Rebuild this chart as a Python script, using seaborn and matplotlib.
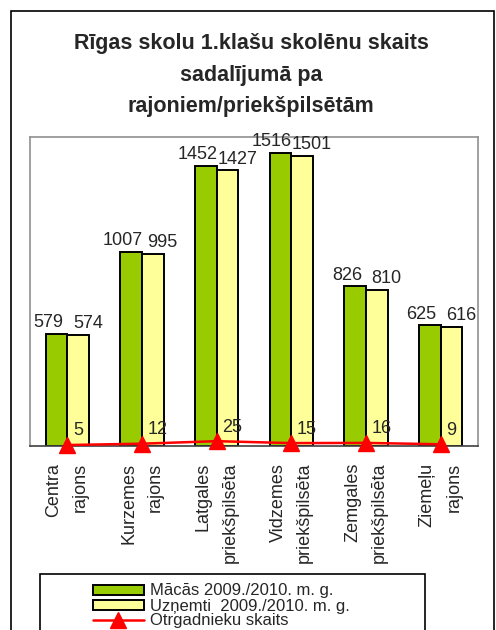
import numpy as np
import pandas as pd
import matplotlib
matplotlib.use("Agg")
import matplotlib.pyplot as plt
from matplotlib.patches import Patch, Rectangle
from matplotlib.lines import Line2D
import seaborn as sns

categories = ["Centra\nrajons", "Kurzemes\nrajons", "Latgales\npriekšpilsēta",
              "Vidzemes\npriekšpilsēta", "Zemgales\npriekšpilsēta", "Ziemeļu\nrajons"]
macas = [579, 1007, 1452, 1516, 826, 625]
uznemti = [574, 995, 1427, 1501, 810, 616]
otrgadnieki = [5, 12, 25, 15, 16, 9]
series = ["Mācās 2009./2010. m. g.", "Uzņemti  2009./2010. m. g."]
line_label = "Otrgadnieku skaits"

sns.set_style("white")
plt.rcParams['font.family'] = ['Liberation Sans', 'DejaVu Sans']

df = pd.DataFrame({
    "rajons": categories * 2,
    "skaits": macas + uznemti,
    "serija": [series[0]] * len(categories) + [series[1]] * len(categories),
})

fig = plt.figure(figsize=(4.96, 6.30), dpi=100)
ax = fig.add_axes([30 / 496, 1 - 446 / 630, 448 / 496, 309 / 630])

colors = ["#99CC00", "#FFFF99"]
sns.barplot(data=df, x="rajons", y="skaits", hue="serija", palette=colors,
            width=0.58, edgecolor="black", linewidth=1.4, saturation=1,
            ax=ax, legend=False)

x = np.arange(len(categories))
ax.plot(x, otrgadnieki, color="red", lw=1.8, marker="^", markersize=12,
        markeredgecolor="red", clip_on=False, zorder=5)

# value labels
for i, cont in enumerate(ax.containers):
    dx = -6 if i == 0 else 7
    for bar in cont:
        h = bar.get_height()
        ax.annotate(f"{int(h)}", (bar.get_x() + bar.get_width() / 2, h),
                    xytext=(dx, 2), textcoords="offset points",
                    ha="center", va="bottom", fontsize=13)
for xi, v in zip(x, otrgadnieki):
    ax.annotate(f"{v}", (xi, v), xytext=(4, 4), textcoords="offset points",
                ha="left", va="bottom", fontsize=13)

ax.set_ylim(0, 1600)
ax.set_xlim(-0.5, len(categories) - 0.5)
ax.set_yticks([])
ax.set_xlabel("")
ax.set_ylabel("")
ax.set_xticks(x)
ax.set_xticklabels(categories, rotation=90, fontsize=13, va="top", ha="center",
                   multialignment="right", linespacing=1.75)
ax.tick_params(axis="x", which="major", length=0, pad=12)
ax.set_xticks(np.arange(-0.5, len(categories), 1), minor=True)
ax.tick_params(axis="x", which="minor", length=5, width=1, color="#404040", direction="out")
for side in ["left", "right", "top"]:
    ax.spines[side].set_color("#909090")
    ax.spines[side].set_linewidth(1.2)
ax.spines["bottom"].set_color("#404040")
ax.spines["bottom"].set_linewidth(1.2)

fig.text(251 / 496, 1 - 75 / 630,
         "Rīgas skolu 1.klašu skolēnu skaits\nsadalījumā pa\nrajoniem/priekšpilsētām",
         ha="center", va="center", fontsize=15.5, fontweight="bold", linespacing=1.63)

# outer chart border
fig.patches.append(Rectangle((11 / 496, -0.1), 483 / 496, 1.1 - 11 / 630,
                             transform=fig.transFigure, fill=False,
                             edgecolor="black", lw=1.2))
# legend box
fig.patches.append(Rectangle((40 / 496, -0.1), 385 / 496, 0.1 + 1 - 574 / 630,
                             transform=fig.transFigure, fill=True, facecolor="white",
                             edgecolor="black", lw=1.2))
handles = [Patch(facecolor=colors[0], edgecolor="black", lw=1.4),
           Patch(facecolor=colors[1], edgecolor="black", lw=1.4),
           Line2D([], [], color="red", lw=1.8, marker="^", markersize=12)]
fig.legend(handles, series + [line_label], loc="upper left",
           bbox_to_anchor=(80 / 496, 1 - 571 / 630), frameon=False, fontsize=12,
           handlelength=3.1, handleheight=0.55, labelspacing=0.0, handletextpad=0.35,
           borderpad=0.25)

fig.savefig("out.png", dpi=100)
